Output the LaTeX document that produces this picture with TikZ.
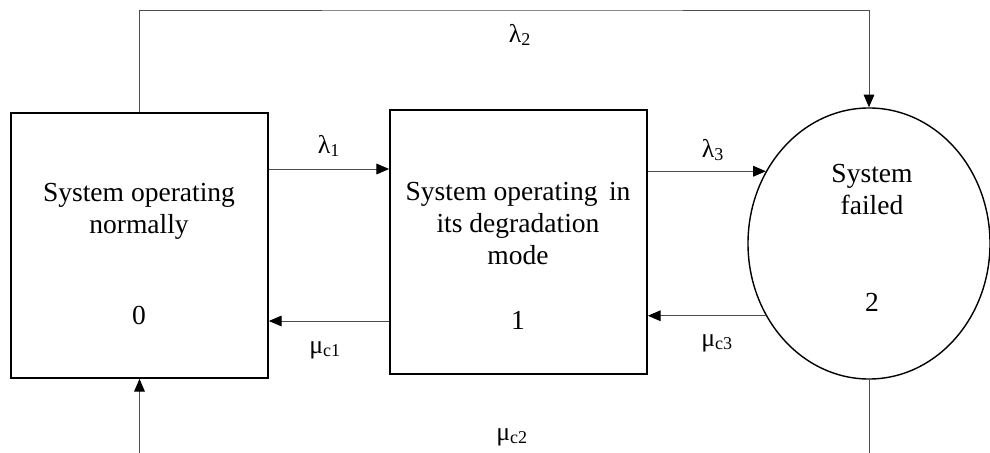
\documentclass[tikz,border=0pt]{standalone}
\usepackage{fontspec}
\setmainfont{Liberation Serif}
\usetikzlibrary{arrows.meta,shapes.geometric}

\begin{document}
\begin{tikzpicture}[
    x=0.03cm, y=-0.03cm,
    state/.style={draw=black, line width=1.5pt, inner sep=0pt},
    txt/.style={align=center, font=\fontsize{23.5}{27.5}\selectfont, inner sep=0pt},
    rate/.style={font=\fontsize{22}{26}\selectfont, inner sep=0pt},
    arr/.style={-{Triangle[length=3.8mm, width=3.2mm, color=black]}, line width=0.8pt, draw=black!70}
]
  \useasboundingbox (0,0) rectangle (990,452);
  \clip (0,0) rectangle (990,452);

  % states
  \node[state, minimum width=7.71cm, minimum height=7.95cm] (s0) at (139.5, 245.5) {};
  \node[state, minimum width=7.71cm, minimum height=7.92cm] (s1) at (518.5, 242) {};
  \node[state, ellipse, line width=1.2pt, minimum width=7.26cm, minimum height=8.13cm] (s2) at (869, 243.5) {};

  \node[txt] (t0) at (139, 211) {System operating\\normally};
  \node[txt] (n0) at (139, 315) {0};
  \node[txt] (t1) at (518, 223.5) {System operating\, in\\its degradation\\mode};
  \node[txt] (n1) at (518, 320) {1};
  \node[txt] (t2) at (872, 189.5) {System\\failed};
  \node[txt] (n2) at (872, 302) {2};

  % helper coordinates
  \coordinate (l1)  at (0, 169);
  \coordinate (m1)  at (0, 321);
  \coordinate (top) at (500, 10);
  \coordinate (bot) at (500, 480);

  % transitions
  \draw[arr] (s0.east |- l1) -- (s1.west |- l1);
  \draw[arr] (s1.west |- m1) -- (s0.east |- m1);
  \draw[arr] (s1.east |- s2.145) -- (s2.145);
  \draw[arr] (s2.215) -- (s1.east |- s2.215);
  \draw[arr] (s0.north) |- (top) -| (s2.north);
  \draw[arr] (s2.south) |- (bot) -| (s0.south);

  % rates
  \node[rate] (r1)  at (329, 146) {λ\textsubscript{1}};
  \node[rate] (r2)  at (520, 35)  {λ\textsubscript{2}};
  \node[rate] (r3)  at (713, 150) {λ\textsubscript{3}};
  \node[rate] (rc1) at (325, 350) {μ\textsubscript{c1}};
  \node[rate] (rc3) at (717, 343) {μ\textsubscript{c3}};
  \node[rate] (rc2) at (512, 437) {μ\textsubscript{c2}};
\end{tikzpicture}
\end{document}
